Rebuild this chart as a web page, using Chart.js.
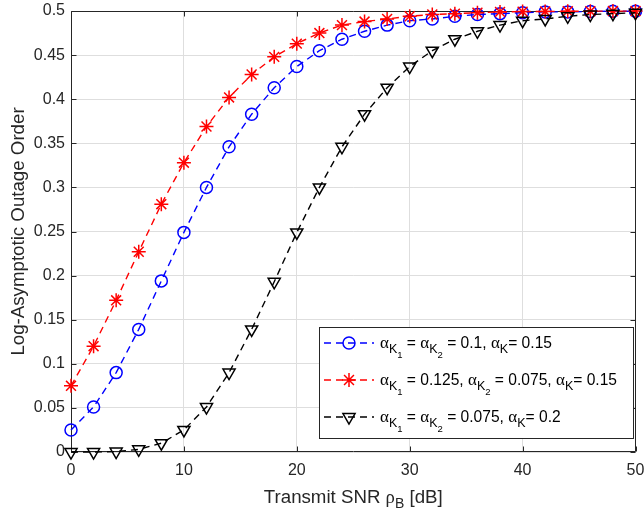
<!DOCTYPE html>
<html><head><meta charset="utf-8">
<script src="https://cdn.jsdelivr.net/npm/chart.js@4/dist/chart.umd.min.js"></script>
<style>html,body{margin:0;padding:0;background:#fff;}</style>
</head><body>
<canvas id="c" width="644" height="514" style="display:block;width:644px;height:514px"></canvas>
<script>
const snrDb = [0,2,4,6,8,10,12,14,16,18,20,22,24,26,28,30,32,34,36,38,40,42,44,46,48,50];
const seriesBlue  = [0.025,0.051,0.090,0.139,0.194,0.249,0.300,0.346,0.383,0.413,0.437,0.455,0.468,0.477,0.484,0.489,0.491,0.494,0.496,0.497,0.498,0.499,0.499,0.4995,0.4997,0.4998];
const seriesRed   = [0.075,0.120,0.172,0.227,0.281,0.328,0.369,0.402,0.428,0.448,0.463,0.475,0.484,0.488,0.491,0.494,0.496,0.497,0.498,0.499,0.4993,0.4995,0.4997,0.4998,0.4999,0.4999];
const seriesBlack = [0,0,0.0005,0.003,0.010,0.025,0.051,0.090,0.139,0.193,0.249,0.300,0.346,0.383,0.413,0.437,0.455,0.468,0.477,0.484,0.489,0.491,0.494,0.496,0.497,0.498];
const xTicks = [0,10,20,30,40,50];
const yTicks = [0,0.05,0.1,0.15,0.2,0.25,0.3,0.35,0.4,0.45,0.5];
const xTitle = ['Transmit SNR ', 'ρ', 'B', ' [dB]'];
const yTitle = 'Log-Asymptotic Outage Order';
const legendRows = [
  [['a'],['s','K'],['ss','1'],['m',' = '],['a'],['s','K'],['ss','2'],['m',' = 0.1, '],['a'],['s','K'],['m','= 0.15']],
  [['a'],['s','K'],['ss','1'],['m',' = 0.125, '],['a'],['s','K'],['ss','2'],['m',' = 0.075, '],['a'],['s','K'],['m','= 0.15']],
  [['a'],['s','K'],['ss','1'],['m',' = '],['a'],['s','K'],['ss','2'],['m',' = 0.075, '],['a'],['s','K'],['m','= 0.2']]
];

const AX = '#262626', GRID = '#dedede';
const SANS = '"Liberation Sans", Arial, Helvetica, sans-serif';
const TF = 18.7;

function pts(ys){ return snrDb.map((x,i)=>({x:x,y:ys[i]})); }

const datasets = [
  {label:'blue', data:pts(seriesBlue), borderColor:'#0000ff', pointStyle:'circle', pointRadius:6, order:2},
  {label:'red', data:pts(seriesRed), borderColor:'#ff0000', pointStyle:'star', pointRadius:7, order:1},
  {label:'black', data:pts(seriesBlack), borderColor:'#000000', pointStyle:'triangle', pointRotation:180, pointRadius:7, order:0}
].map(d=>Object.assign({
  borderWidth:1.4, borderDash:[7,5], pointBorderColor:d.borderColor, pointBackgroundColor:'rgba(0,0,0,0)',
  pointBorderWidth:1.5, pointHoverRadius:d.pointRadius, fill:false, tension:0, clip:false
}, d));

function drawRich(ctx, x, base, parts, color){
  ctx.fillStyle = color; ctx.textBaseline = 'alphabetic'; ctx.textAlign = 'left';
  for (const p of parts){
    let font, dy = 0, txt;
    if (p[0]==='a'){ font = '17px "Liberation Serif", serif'; txt = 'α'; }
    else if (p[0]==='s'){ font = '12.5px '+SANS; dy = 5; txt = p[1]; }
    else if (p[0]==='ss'){ font = '9.5px '+SANS; dy = 10; txt = p[1]; }
    else { font = '15.6px '+SANS; txt = p[1]; }
    ctx.font = font;
    ctx.fillText(txt, x, base+dy);
    x += ctx.measureText(txt).width;
  }
}

const framePlugin = {
  id:'frame',
  beforeDatasetsDraw(chart){
    const {ctx, chartArea:a, scales} = chart;
    ctx.save();
    ctx.strokeStyle = AX; ctx.lineWidth = 1;
    const L = Math.round(a.left)+0.5, R = Math.round(a.right)-0.5, T = Math.round(a.top)+0.5, B = Math.round(a.bottom)-0.5;
    ctx.beginPath();
    ctx.rect(L, T, R-L, B-T);
    const tl = 5;
    xTicks.forEach(v=>{ const px = Math.round(scales.x.getPixelForValue(v))+0.5;
      ctx.moveTo(px,B); ctx.lineTo(px,B-tl); ctx.moveTo(px,T); ctx.lineTo(px,T+tl); });
    yTicks.forEach(v=>{ const py = Math.round(scales.y.getPixelForValue(v))+0.5;
      ctx.moveTo(L,py); ctx.lineTo(L+tl,py); ctx.moveTo(R,py); ctx.lineTo(R-tl,py); });
    ctx.stroke();
    ctx.restore();
  },
  afterDraw(chart){
    const {ctx, chartArea:a} = chart;
    ctx.save();
    ctx.fillStyle = AX;
    ctx.textBaseline = 'alphabetic';
    const cx = (a.left+a.right)/2;
    ctx.font = TF+'px '+SANS;
    const w1 = ctx.measureText(xTitle[0]).width;
    ctx.font = TF+'px "Liberation Serif", serif';
    const w2 = ctx.measureText(xTitle[1]).width;
    ctx.font = '14px '+SANS;
    const w3 = ctx.measureText(xTitle[2]).width;
    ctx.font = TF+'px '+SANS;
    const w4 = ctx.measureText(xTitle[3]).width;
    let x = cx - (w1+w2+w3+w4)/2, by = 503;
    ctx.textAlign='left';
    ctx.fillText(xTitle[0], x, by); x+=w1;
    ctx.font = TF+'px "Liberation Serif", serif';
    ctx.fillText(xTitle[1], x, by); x+=w2;
    ctx.font = '14px '+SANS;
    ctx.fillText(xTitle[2], x, by+5); x+=w3;
    ctx.font = TF+'px '+SANS;
    ctx.fillText(xTitle[3], x, by);
    ctx.save();
    ctx.translate(24, (a.top+a.bottom)/2);
    ctx.rotate(-Math.PI/2);
    ctx.textAlign='center';
    ctx.fillText(yTitle, 0, 0);
    ctx.restore();

    const bx=319.5, byy=327.5, bw=314, bh=111;
    ctx.fillStyle='#fff'; ctx.fillRect(bx,byy,bw,bh);
    ctx.strokeStyle=AX; ctx.lineWidth=1; ctx.strokeRect(bx,byy,bw,bh);
    const rowY=[343,380,417];
    datasets.forEach((d,i)=>{
      const y=rowY[i];
      ctx.save();
      ctx.strokeStyle=d.borderColor; ctx.lineWidth=d.borderWidth; ctx.setLineDash(d.borderDash);
      ctx.beginPath(); ctx.moveTo(324,y); ctx.lineTo(374,y); ctx.stroke();
      ctx.restore();
      ctx.save();
      ctx.strokeStyle=d.borderColor; ctx.lineWidth=d.pointBorderWidth; ctx.fillStyle='rgba(0,0,0,0)';
      Chart.helpers.drawPoint(ctx,{pointStyle:d.pointStyle,rotation:d.pointRotation||0,radius:d.pointRadius,borderWidth:d.pointBorderWidth},349,y);
      ctx.restore();
      drawRich(ctx, 380, y+5, legendRows[i], '#000');
    });
    ctx.restore();
  }
};

new Chart(document.getElementById('c'), {
  type:'line',
  data:{datasets},
  options:{
    responsive:false, animation:false, devicePixelRatio:1,
    layout:{padding:{left:0, top:11, right:8, bottom:0}},
    plugins:{legend:{display:false}, tooltip:{enabled:false}},
    scales:{
      x:{type:'linear', min:0, max:50,
        afterBuildTicks(s){ s.ticks = xTicks.map(v=>({value:v})); },
        afterFit(s){ s.height = 62; s.paddingLeft = 0; s.paddingRight = 0; },
        grid:{color:GRID, lineWidth:1, drawTicks:false},
        border:{display:false},
        ticks:{color:AX, font:{family:SANS, size:16}, padding:9, maxRotation:0, autoSkip:false}
      },
      y:{type:'linear', min:0, max:0.5,
        afterBuildTicks(s){ s.ticks = yTicks.map(v=>({value:v})); },
        afterFit(s){ s.width = 71; s.paddingTop = 0; s.paddingBottom = 0; },
        grid:{color:GRID, lineWidth:1, drawTicks:false},
        border:{display:false},
        ticks:{color:AX, font:{family:SANS, size:16}, padding:6, autoSkip:false,
          callback:(v)=>String(Number(v.toFixed(2)))}
      }
    }
  },
  plugins:[framePlugin]
});
</script>
</body></html>
